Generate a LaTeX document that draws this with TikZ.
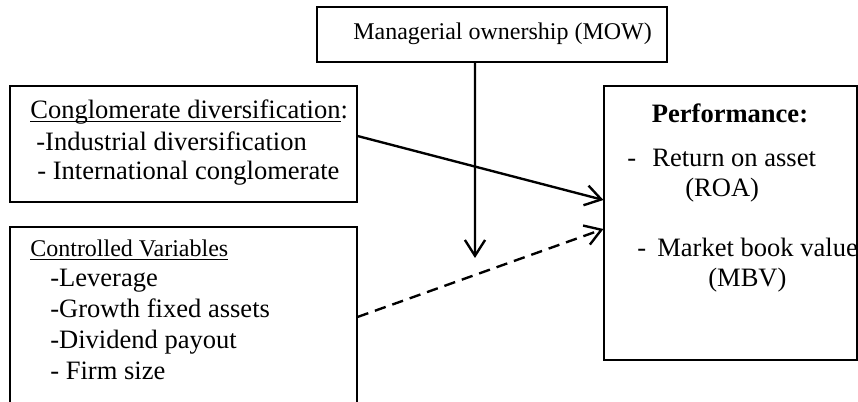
\documentclass[tikz,border=0pt]{standalone}
\usepackage{fontspec}
\setmainfont{Liberation Serif}
\usetikzlibrary{arrows.meta}
\newcommand{\uline}[1]{{\setbox0\hbox{#1}\rlap{\rule[-1.7pt]{\wd0}{0.55pt}}\box0}}

\begin{document}
\begin{tikzpicture}[scale=0.2,
    box/.style={draw, line width=0.6pt},
    big/.style={font=\fontsize{15.1}{18}\selectfont},
    small/.style={font=\fontsize{13.65}{16}\selectfont},
    link/.style={line width=1.35pt, -{Straight Barb[length=9pt,width=11.5pt,line width=1.35pt]}}]
              \tikzstyle{every node}+=[inner sep=0pt]
              \useasboundingbox (0,0) rectangle (85.8,-40.2);
              \clip (0,0) rectangle (85.8,-40.2);
              % boxes
              \node [box, minimum width=7cm, minimum height=1.1cm] (mow) at (49.2,-3.45) {};
              \node [box, minimum width=6.94cm, minimum height=2.32cm] (cong) at (18.35,-14.4) {};
              \node [box, minimum width=6.94cm, minimum height=4.66cm] (ctrl) at (18.35,-34.35) {};
              \node [box, minimum width=5.06cm, minimum height=5.48cm] (perf) at (73.05,-22.3) {};
              \coordinate (mod) at (47.5,-25.8);
              % texts
              \draw (35.3,-4.0) node [small, anchor=base west] {Managerial ownership (MOW)};
              \draw (3.0,-11.9) node [big, anchor=base west] {\uline{Conglomerate diversification}:};
              \draw (3.6,-15.1) node [big, anchor=base west] {-Industrial diversification};
              \draw (3.7,-18.0) node [big, anchor=base west] {- International conglomerate};
              \draw (3.0,-25.7) node [small, anchor=base west] {\uline{Controlled Variables}};
              \draw (5.0,-28.7) node [big, anchor=base west] {-Leverage};
              \draw (5.0,-31.8) node [big, anchor=base west] {-Growth fixed assets};
              \draw (5.0,-34.9) node [big, anchor=base west] {-Dividend payout};
              \draw (5.0,-38.0) node [big, anchor=base west] {- Firm size};
              \draw (73.0,-12.3) node [big, anchor=base] {\textbf{Performance:}};
              \draw (62.7,-16.7) node [big, anchor=base west] {-};
              \draw (65.2,-16.7) node [big, anchor=base west] {Return on asset};
              \draw (68.5,-19.7) node [big, anchor=base west] {(ROA)};
              \draw (63.7,-25.7) node [big, anchor=base west] {-};
              \draw (65.7,-25.7) node [big, anchor=base west] {Market book value};
              \draw (70.8,-28.7) node [big, anchor=base west] {(MBV)};
              % arrows (shifts are scaled by 0.2)
              \draw [link] ([xshift=-1.7cm]mow.south) -- (mod);
              \draw [link] ([yshift=0.8cm]cong.east) -- ([yshift=2.3cm]perf.west);
              \draw [link, dash pattern=on 6.5pt off 4pt] ([yshift=2.65cm]ctrl.east) -- ([yshift=-0.6cm]perf.west);
\end{tikzpicture}
\end{document}
